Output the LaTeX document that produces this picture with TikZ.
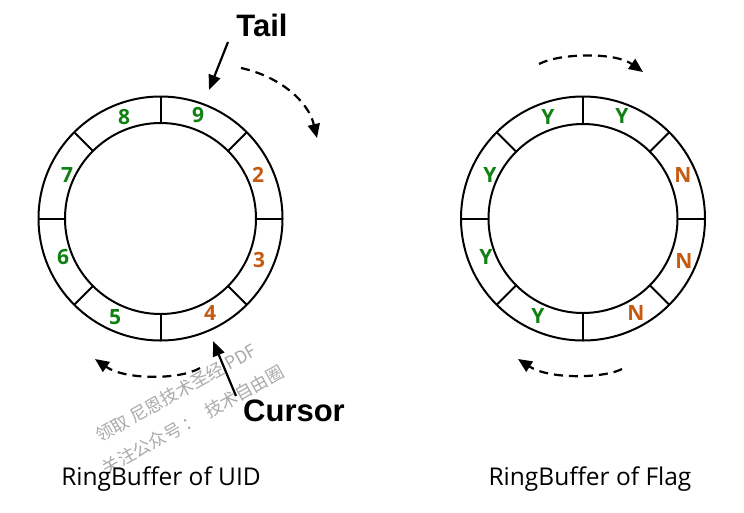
\documentclass[tikz,border=0pt]{standalone}
\usepackage{fontspec}
\setmainfont{Open Sans}
\newfontfamily\arialfont{Liberation Sans}
\newfontfamily\cjk{Noto Sans CJK SC}
\usetikzlibrary{arrows.meta}
\definecolor{ygreen}{RGB}{16,128,16}
\definecolor{norange}{RGB}{197,90,17}
\definecolor{wmgray}{RGB}{170,170,170}
\begin{document}
\begin{tikzpicture}[x=1pt,y=-1pt,
  ring/.style={line width=2pt},
  lbl/.style={font=\fontsize{21}{21}\selectfont\bfseries, inner sep=0pt},
  grn/.style={lbl, text=ygreen},
  org/.style={lbl, text=norange},
  dasharr/.style={line width=2.2pt, dash pattern=on 9pt off 6pt, -{Triangle[length=14pt,width=12pt]}},
  solidarr/.style={line width=2.2pt, -{Triangle[length=15pt,width=12pt]}},
  big/.style={font=\arialfont\fontsize{31}{31}\selectfont\bfseries, inner sep=0pt},
  captext/.style={font=\fontsize{24.5}{24.5}\selectfont, inner sep=0pt},
  wm/.style={font=\cjk\fontsize{17.5}{17.5}\selectfont, text=wmgray, rotate=29, inner sep=0pt}]
\useasboundingbox (0,0) rectangle (744,512);
\fill[white] (0,0) rectangle (744,512);

% ---------- left ring ----------
\coordinate (L) at (160.5,218.5);
\draw[ring] (L) circle[radius=122];
\draw[ring] (L) circle[radius=95.5];
\foreach \a in {0,45,...,315}
  \draw[ring, shift={(L)}] (\a:95.5) -- (\a:122);

\node[grn] (l9) at (198,115) {9};
\node[grn] (l8) at (124,117) {8};
\node[grn] (l7) at (67,175) {7};
\node[grn] (l6) at (63,257) {6};
\node[grn] (l5) at (115,317) {5};
\node[org] (l4) at (210,313) {4};
\node[org] (l3) at (259,260) {3};
\node[org] (l2) at (258,175) {2};

% ---------- right ring ----------
\coordinate (R) at (583,218.5);
\draw[ring] (R) circle[radius=122];
\draw[ring] (R) circle[radius=94.5];
\foreach \a in {0,45,...,315}
  \draw[ring, shift={(R)}] (\a:94.5) -- (\a:122);

\node[grn] (r1) at (548,117) {Y};
\node[grn] (r2) at (622,116) {Y};
\node[org] (r3) at (683,175) {N};
\node[org] (r4) at (684,261) {N};
\node[org] (r5) at (636,313) {N};
\node[grn] (r6) at (538,316) {Y};
\node[grn] (r7) at (486,257) {Y};
\node[grn] (r8) at (490,175) {Y};

% ---------- dashed rotation arrows ----------
\coordinate (a1s) at (241,68);  \coordinate (a1e) at (317,138);
\draw[dasharr] (a1s) .. controls (278,76) and (308,100) .. (a1e);
\coordinate (a2s) at (200,368); \coordinate (a2e) at (95,359);
\draw[dasharr] (a2s) .. controls (180,380) and (125,380) .. (a2e);
\coordinate (a3s) at (539,64);  \coordinate (a3e) at (643,72);
\draw[dasharr] (a3s) .. controls (560,53) and (615,52) .. (a3e);
\coordinate (a4s) at (622,369); \coordinate (a4e) at (518,359);
\draw[dasharr] (a4s) .. controls (605,378) and (550,380) .. (a4e);

% ---------- Tail / Cursor ----------
\node[big] (tail) at (262,25) {Tail};
\coordinate (tailS) at (228,42);
\coordinate (tailE) at (209,90);
\draw[solidarr] (tailS) -- (tailE);

\node[big] (cursor) at (294,411) {Cursor};
\coordinate (curS) at (236,396);
\coordinate (curE) at (213,341);
\draw[solidarr] (curS) -- (curE);

% ---------- watermark ----------
\node[wm] (wm1) at (176,393) {领取 尼恩技术圣经 PDF};
\node[wm] (wm2) at (193,420) {关注公众号 ：\ \ 技术自由圈};

% ---------- captions ----------
\node[captext] (capL) at (161,479) {RingBuffer of UID};
\node[captext] (capR) at (590,479) {RingBuffer of Flag};
\end{tikzpicture}
\end{document}
